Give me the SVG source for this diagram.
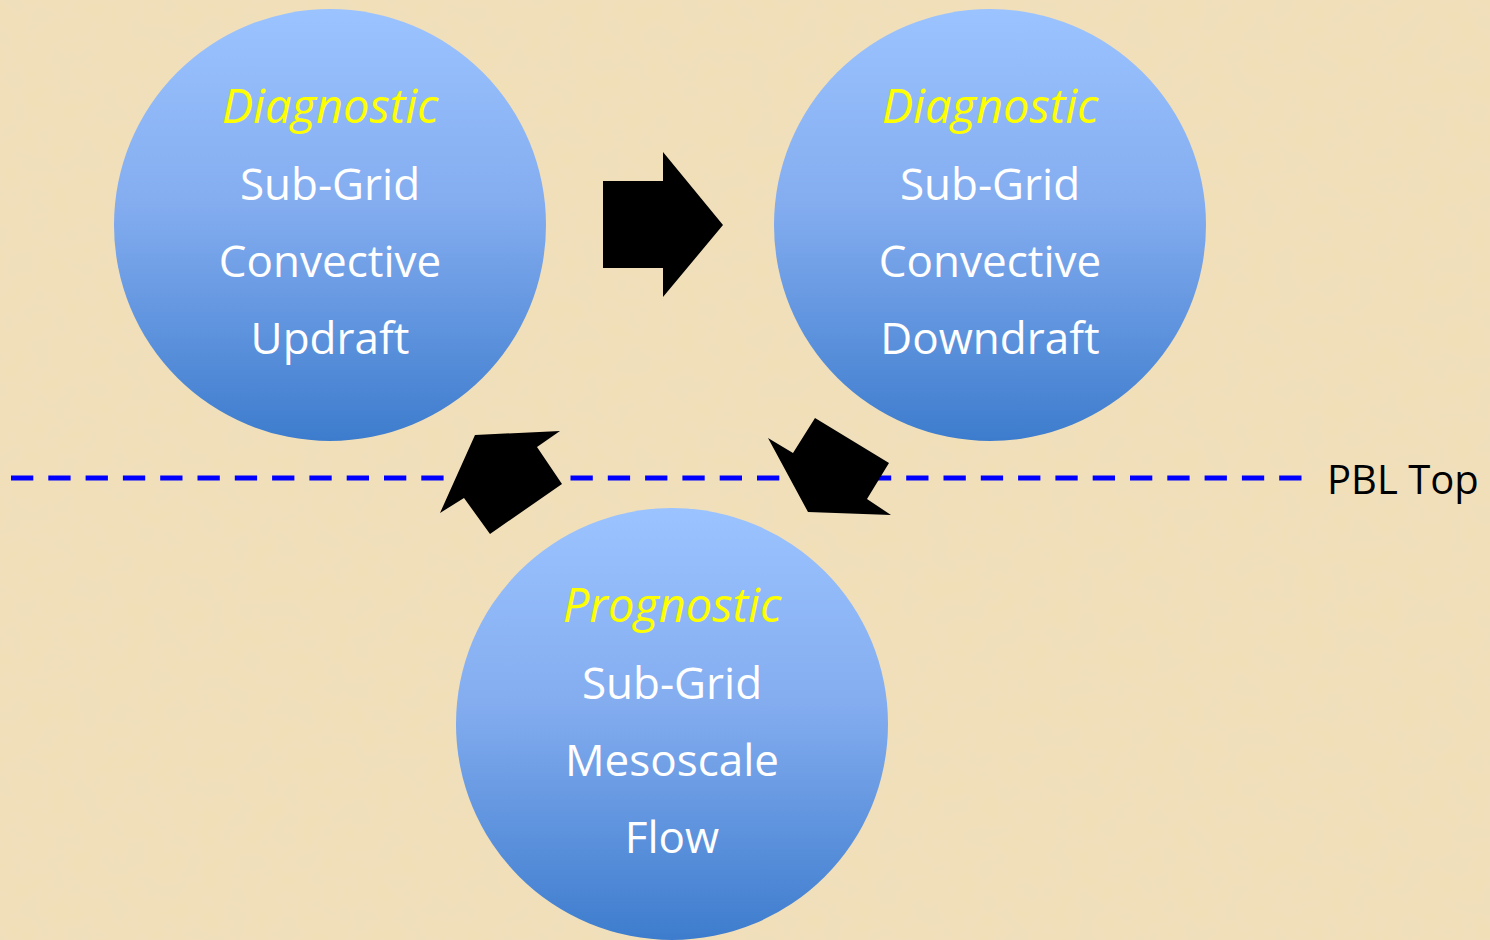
<svg xmlns="http://www.w3.org/2000/svg" width="1490" height="940" viewBox="0 0 1490 940">
  <defs>
    <linearGradient id="ballFill" x1="0" y1="0" x2="0" y2="1">
      <stop offset="0" stop-color="#9bc3ff"/>
      <stop offset="0.45" stop-color="#84adf0"/>
      <stop offset="1" stop-color="#3d7ccd"/>
    </linearGradient>
    <filter id="parchment" x="0" y="0" width="100%" height="100%">
      <feTurbulence type="fractalNoise" baseFrequency="0.04" numOctaves="4" seed="7" result="noise"/>
      <feColorMatrix in="noise" type="matrix"
        values="0 0 0 0 0.86
                0 0 0 0 0.74
                0 0 0 0 0.52
                0 0 0 0.9 -0.25" result="spots"/>
      <feComposite in="spots" in2="SourceGraphic" operator="atop"/>
    </filter>
    <style>
      .ball { fill: url(#ballFill); }
      .txt { font-family: "Open Sans", "Noto Sans", "Liberation Sans", sans-serif; font-size: 44px; fill: #ffffff; text-anchor: middle; }
      .kind { fill: #ffff00; font-style: italic; font-size: 47px; }
      .flow { fill: #000000; }
      .pbl { stroke: #0000ff; stroke-width: 5; stroke-dasharray: 22.3 15; fill: none; }
      .label { font-family: "Open Sans", "Noto Sans", "Liberation Sans", sans-serif; font-size: 40px; fill: #000000; }
    </style>
  </defs>

  <!-- parchment background -->
  <rect x="0" y="0" width="1490" height="940" fill="#f1dfb8" filter="url(#parchment)"/>

  <!-- PBL top level -->
  <g id="pbl-top">
    <line class="pbl" x1="11" y1="478" x2="1302" y2="478"/>
    <text class="label" x="1327" y="494">PBL Top</text>
  </g>

  <g id="updraft">
    <circle class="ball" cx="330" cy="225" r="216"/>
    <text class="txt kind" x="330" y="123">Diagnostic</text>
    <text class="txt" x="330" y="200">Sub-Grid</text>
    <text class="txt" x="330" y="277">Convective</text>
    <text class="txt" x="330" y="354">Updraft</text>
  </g>

  <g id="downdraft">
    <circle class="ball" cx="990" cy="225" r="216"/>
    <text class="txt kind" x="990" y="123">Diagnostic</text>
    <text class="txt" x="990" y="200">Sub-Grid</text>
    <text class="txt" x="990" y="277">Convective</text>
    <text class="txt" x="990" y="354">Downdraft</text>
  </g>

  <g id="mesoscale">
    <circle class="ball" cx="672" cy="724" r="216"/>
    <text class="txt kind" x="672" y="622">Prognostic</text>
    <text class="txt" x="672" y="699">Sub-Grid</text>
    <text class="txt" x="672" y="776">Mesoscale</text>
    <text class="txt" x="672" y="853">Flow</text>
  </g>

  <!-- block arrows cycling between the three regimes -->
  <g id="connectors">
    <polygon class="flow" points="603,181 663,181 663,152 723,225 663,297 663,268 603,268"/>
    <polygon class="flow" points="768,438 793,453 815,418 889,463 867,499 891,515 808,512"/>
    <polygon class="flow" points="440,513 475,435 560,431 537,447 562,484 490,534 464,498"/>
  </g>
</svg>
